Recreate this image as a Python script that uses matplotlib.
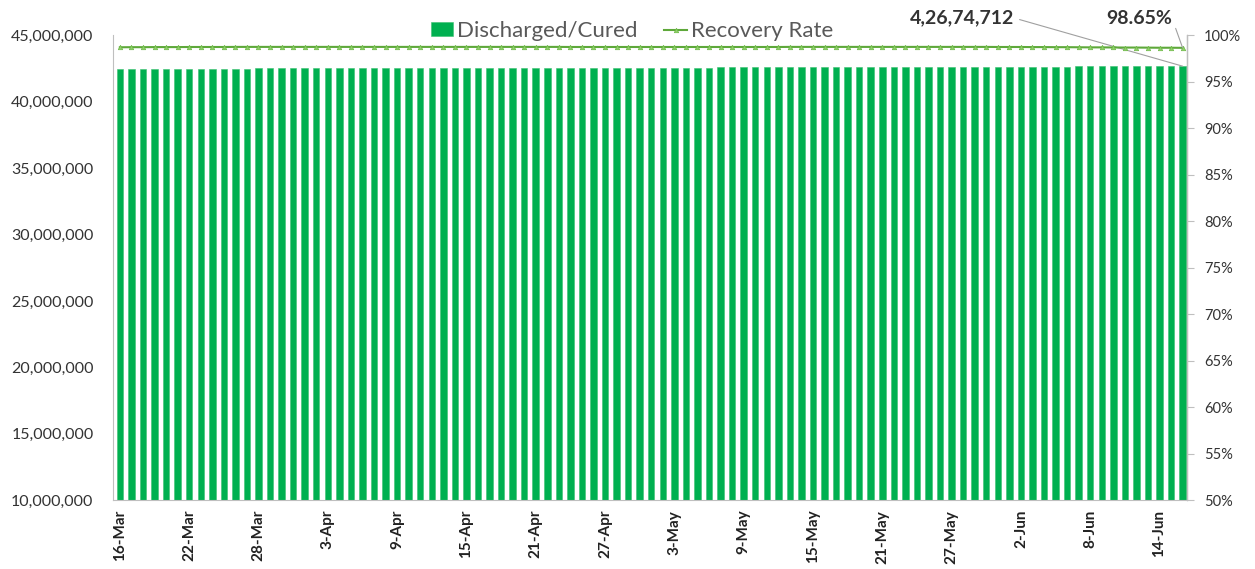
import matplotlib
matplotlib.use("Agg")
import matplotlib.pyplot as plt
from matplotlib.ticker import FuncFormatter, MultipleLocator
import pandas as pd

plt.rcParams['font.family'] = ['Lato', 'DejaVu Sans']

dates = pd.date_range("2022-03-16", "2022-06-16", freq="D")
date_labels = [f"{d.day}-{d.strftime('%b')}" for d in dates]

discharged = [
    42458543, 42462800, 42467000, 42470950, 42474700, 42478300, 42481650, 42484900,
    42488000, 42490950, 42493800, 42496500, 42499100, 42501550, 42503900, 42506100,
    42508250, 42510300, 42512200, 42514000, 42515750, 42517400, 42519000, 42520500,
    42522000, 42523450, 42524800, 42526150, 42527400, 42528650, 42529900, 42531100,
    42532350, 42533550, 42534800, 42536200, 42537700, 42539400, 42541200, 42543100,
    42545000, 42547000, 42549100, 42551300, 42553600, 42556000,
    42558400, 42560900, 42563400, 42566000, 42568800, 42571700, 42574600, 42577500,
    42580200, 42583000, 42585800, 42588700, 42591500, 42594300, 42596900, 42599500,
    42601800, 42604200, 42606900, 42609500, 42612000, 42614500, 42616900, 42619300,
    42621600, 42623800, 42625900, 42628000, 42630100, 42632200, 42634300,
    42636500, 42638800, 42641100, 42643500, 42646000, 42648600, 42651200, 42653900,
    42656700, 42659500, 42662400, 42665300, 42668200, 42670300, 42672500, 42674712,
]

recovery_rate = [
    98.71, 98.72, 98.72, 98.73, 98.73, 98.73, 98.74, 98.74, 98.74, 98.74, 98.75, 98.75,
    98.75, 98.75, 98.75, 98.75,
    98.75, 98.75, 98.75, 98.75, 98.75, 98.75, 98.75, 98.75, 98.75, 98.75, 98.75, 98.75,
    98.75, 98.75, 98.75, 98.75, 98.75, 98.75, 98.75, 98.75, 98.75, 98.75, 98.75, 98.74,
    98.74, 98.74, 98.74, 98.74, 98.74, 98.74,
    98.74, 98.74, 98.74, 98.74, 98.74, 98.74, 98.74, 98.74, 98.74, 98.74, 98.74, 98.74,
    98.75, 98.75, 98.75, 98.75, 98.75, 98.75, 98.75, 98.75, 98.75, 98.75, 98.75, 98.75,
    98.75, 98.75, 98.75, 98.75, 98.75, 98.75, 98.74,
    98.74, 98.74, 98.73, 98.73, 98.72, 98.72, 98.71, 98.70, 98.70, 98.69, 98.68, 98.68,
    98.67, 98.66, 98.66, 98.65,
]

label_step = 6
last_discharged_label = "4,26,74,712"
last_rate_label = "98.65%"

n = len(dates)
x = list(range(n))

fig = plt.figure(figsize=(12.55, 5.69), dpi=100)
ax = fig.add_axes([0.090, 0.121, 0.856, 0.817])
ax2 = ax.twinx()

bar_color = "#00B050"
line_color = "#5EA83A"

bars = ax.bar(x, discharged, width=0.56, color=bar_color, edgecolor="#3cc070", linewidth=0.4,
              label="Discharged/Cured", zorder=2)
line, = ax2.plot(x, recovery_rate, color=line_color, linewidth=1.5, marker="^",
                 markersize=3.2, markerfacecolor="#8fd06a", markeredgecolor="#6cb845",
                 markeredgewidth=0.5, label="Recovery Rate", zorder=3)

ax.set_ylim(10_000_000, 45_000_000)
ax.yaxis.set_major_locator(MultipleLocator(5_000_000))
ax.yaxis.set_major_formatter(FuncFormatter(lambda v, p: f"{int(v):,}"))
ax2.set_ylim(50, 100)
ax2.yaxis.set_major_locator(MultipleLocator(5))
ax2.yaxis.set_major_formatter(FuncFormatter(lambda v, p: f"{int(round(v))}%"))

ax.set_xlim(-0.6, n - 0.6)
ax.set_xticks(x[::label_step])
ax.set_xticklabels(date_labels[::label_step], rotation=90, fontsize=11,
                   fontweight="bold", color="#222222")
ax.tick_params(axis="x", length=0, pad=7)
ax.tick_params(axis="y", length=0, labelsize=11.5, colors="#333333", pad=14)
ax2.tick_params(axis="y", length=5, width=0.8, color="#bfbfbf", labelsize=10.5,
                labelcolor="#333333", pad=7)

for a in (ax, ax2):
    a.spines["top"].set_visible(False)
ax.spines["left"].set_color("#bfbfbf")
ax.spines["bottom"].set_color("#bfbfbf")
ax2.spines["right"].set_color("#bfbfbf")
ax2.spines["left"].set_visible(False)
ax2.spines["bottom"].set_visible(False)

# annotations
ax.annotate(last_discharged_label, xy=(x[-1], discharged[-1]), xycoords="data",
            xytext=(962, 551), textcoords="figure pixels", ha="center", va="center",
            fontsize=14, fontweight="bold", color="#333333",
            arrowprops=dict(arrowstyle="-", color="#a0a0a0", linewidth=0.8,
                            shrinkA=2, shrinkB=0, relpos=(1.0, 0.5)),
            annotation_clip=False)
ax2.annotate(last_rate_label, xy=(x[-1], recovery_rate[-1]), xycoords="data",
             xytext=(1139, 551), textcoords="figure pixels", ha="center", va="center",
             fontsize=14, fontweight="bold", color="#333333",
             arrowprops=dict(arrowstyle="-", color="#a0a0a0", linewidth=0.8,
                             shrinkA=2, shrinkB=0, relpos=(1.0, 0.5)),
             annotation_clip=False)

fig.legend(handles=[bars, line], labels=["Discharged/Cured", "Recovery Rate"],
           loc="center", bbox_to_anchor=(632 / 1255, 1 - 31 / 569), ncol=2,
           frameon=False, fontsize=16, handlelength=1.0, handleheight=0.6,
           handletextpad=0.2, columnspacing=1.2, labelcolor="#595959")

fig.savefig("out.png", dpi=100, facecolor="white")
